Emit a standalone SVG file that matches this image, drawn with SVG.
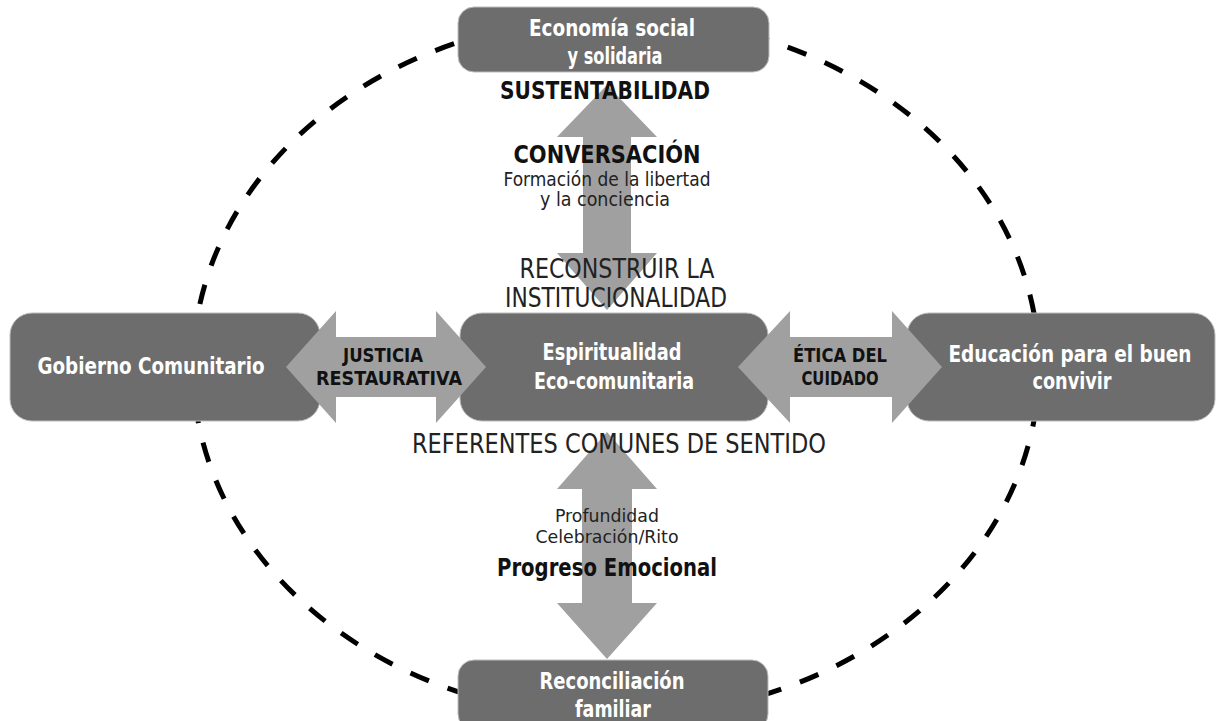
<svg xmlns="http://www.w3.org/2000/svg" width="1219" height="721" viewBox="0 0 1219 721">
<style>
.box{fill:#6d6d6d;stroke:#bdbdbd;stroke-width:1}
.arr{fill:#a0a0a0}
text{font-family:"Liberation Sans Narrow","DejaVu Sans Condensed","Liberation Sans",sans-serif;text-anchor:middle}
.w{fill:#ffffff;font-weight:bold;font-size:23px}
.b{fill:#111111;font-weight:bold}
.r{fill:#222222}
</style>
<rect width="1219" height="721" fill="#ffffff"/>
<g id="ring">
<ellipse cx="616" cy="367" rx="423" ry="350" fill="none" stroke="#000" stroke-width="5" stroke-dasharray="20 20"/>
</g>
<g id="node-top"><rect class="box" x="458" y="7" width="311" height="65" rx="16"/>
<text class="w" x="612" y="36" textLength="166" lengthAdjust="spacingAndGlyphs">Economía social</text>
<text class="w" x="615" y="64" textLength="95" lengthAdjust="spacingAndGlyphs">y solidaria</text></g>
<g id="node-bottom"><rect class="box" x="458" y="660" width="310" height="70" rx="16"/>
<text class="w" x="612" y="689" textLength="145" lengthAdjust="spacingAndGlyphs">Reconciliación</text>
<text class="w" x="613" y="717" textLength="76" lengthAdjust="spacingAndGlyphs">familiar</text></g>
<g id="node-left"><rect class="box" x="10" y="313" width="310" height="108" rx="22"/>
<text class="w" x="151" y="374" textLength="227" lengthAdjust="spacingAndGlyphs">Gobierno Comunitario</text></g>
<g id="node-center"><rect class="box" x="460" y="313" width="308" height="108" rx="22"/>
<text class="w" x="612" y="360" textLength="139" lengthAdjust="spacingAndGlyphs">Espiritualidad</text>
<text class="w" x="614" y="389" textLength="160" lengthAdjust="spacingAndGlyphs">Eco-comunitaria</text></g>
<g id="node-right"><rect class="box" x="907" y="313" width="308" height="108" rx="22"/>
<text class="w" x="1070" y="362" textLength="243" lengthAdjust="spacingAndGlyphs">Educación para el buen</text>
<text class="w" x="1072" y="389" textLength="79" lengthAdjust="spacingAndGlyphs">convivir</text></g>
<g id="connectors">
<polygon class="arr" points="607,85 657,137 631,137 631,253 657,253 607,310 557,253 583,253 583,137 557,137"/>
<polygon class="arr" points="607,432 657,489 632,489 632,603 657,603 607,659 557,603 582,603 582,489 557,489"/>
<polygon class="arr" points="286,367 336,311 336,337 436,337 436,311 486,367 436,423 436,397 336,397 336,423"/>
<polygon class="arr" points="738,367 790,311 790,337 892,337 892,311 942,367 892,423 892,397 790,397 790,423"/>
</g>
<g id="labels">
<text class="b" x="605" y="99" font-size="24" textLength="210" lengthAdjust="spacingAndGlyphs">SUSTENTABILIDAD</text>
<text class="b" x="607" y="163" font-size="24" textLength="187" lengthAdjust="spacingAndGlyphs">CONVERSACIÓN</text>
<text class="r" x="607" y="186" font-size="19" textLength="207" lengthAdjust="spacingAndGlyphs">Formación de la libertad</text>
<text class="r" x="605" y="206" font-size="19" textLength="130" lengthAdjust="spacingAndGlyphs">y la conciencia</text>
<text class="r" x="617" y="278" font-size="26" textLength="195" lengthAdjust="spacingAndGlyphs">RECONSTRUIR LA</text>
<text class="r" x="616" y="307" font-size="26" textLength="222" lengthAdjust="spacingAndGlyphs">INSTITUCIONALIDAD</text>
<text class="r" x="619" y="453" font-size="26" textLength="414" lengthAdjust="spacingAndGlyphs">REFERENTES COMUNES DE SENTIDO</text>
<text class="b" x="383" y="362" font-size="20" textLength="80" lengthAdjust="spacingAndGlyphs">JUSTICIA</text>
<text class="b" x="389" y="385" font-size="20" textLength="146" lengthAdjust="spacingAndGlyphs">RESTAURATIVA</text>
<text class="b" x="840" y="362" font-size="20" textLength="94" lengthAdjust="spacingAndGlyphs">ÉTICA DEL</text>
<text class="b" x="840" y="385" font-size="20" textLength="77" lengthAdjust="spacingAndGlyphs">CUIDADO</text>
<text class="r" x="607" y="522" font-size="18" textLength="104" lengthAdjust="spacingAndGlyphs">Profundidad</text>
<text class="r" x="607" y="543" font-size="18" textLength="143" lengthAdjust="spacingAndGlyphs">Celebración/Rito</text>
<text class="b" x="607" y="576" font-size="24" textLength="220" lengthAdjust="spacingAndGlyphs">Progreso Emocional</text>
</g>
</svg>
